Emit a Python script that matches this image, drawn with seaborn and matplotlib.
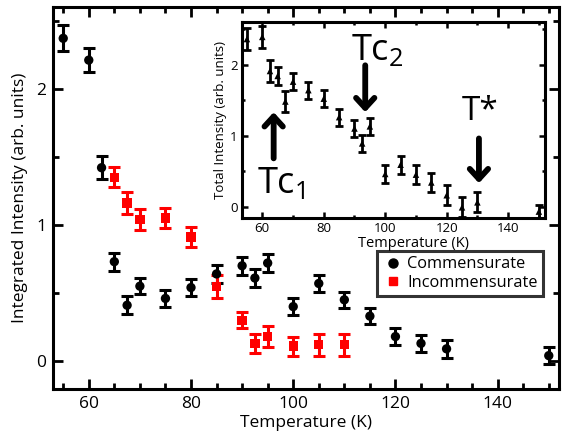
import numpy as np
import pandas as pd
import matplotlib
matplotlib.use("Agg")
import matplotlib.pyplot as plt
import seaborn as sns
from matplotlib.lines import Line2D
from matplotlib.ticker import MultipleLocator

# ---------------- data ----------------
comm_T = [55, 60, 62.5, 65, 67.5, 70, 75, 80, 85, 90, 92.5, 95, 100, 105, 110, 115, 120, 125, 130, 150]
comm_I = [2.37, 2.21, 1.42, 0.73, 0.41, 0.55, 0.46, 0.54, 0.64, 0.70, 0.61, 0.72, 0.40, 0.57, 0.45, 0.33, 0.18, 0.13, 0.09, 0.04]
comm_err = [0.095, 0.09, 0.085, 0.065, 0.065, 0.06, 0.06, 0.06, 0.065, 0.065, 0.065, 0.065, 0.06, 0.065, 0.06, 0.06, 0.065, 0.065, 0.065, 0.065]

inc_T = [65, 67.5, 70, 75, 80, 85, 90, 92.5, 95, 100, 105, 110]
inc_I = [1.35, 1.16, 1.04, 1.05, 0.91, 0.55, 0.30, 0.13, 0.18, 0.11, 0.12, 0.12]
inc_err = [0.075, 0.08, 0.075, 0.075, 0.075, 0.085, 0.06, 0.07, 0.08, 0.07, 0.08, 0.08]

tot_T = [55, 60, 62.5, 65, 67.5, 70, 75, 80, 85, 90, 92.5, 95, 100, 105, 110, 115, 120, 125, 130, 150]
tot_I = [2.36, 2.39, 1.91, 1.84, 1.48, 1.76, 1.64, 1.52, 1.26, 1.10, 0.89, 1.13, 0.46, 0.59, 0.45, 0.34, 0.16, -0.01, 0.06, -0.07]
tot_err = [0.16, 0.16, 0.15, 0.13, 0.15, 0.12, 0.12, 0.12, 0.12, 0.12, 0.12, 0.12, 0.13, 0.13, 0.13, 0.13, 0.14, 0.14, 0.14, 0.1]

series_names = ["Commensurate", "Incommensurate"]
series_colors = ["black", "#ff0000"]

annot_labels = ["Tc$_1$", "Tc$_2$", "T*"]
annot_arrow_T = [63.7, 93.5, 130.5]

# ---------------- style ----------------
sns.set_theme(style="ticks")
plt.rcParams["font.family"] = ["Open Sans", "DejaVu Sans"]
plt.rcParams["mathtext.default"] = "regular"
plt.rcParams["axes.linewidth"] = 2.2
for key in ["text.color", "axes.labelcolor", "xtick.color", "ytick.color", "axes.edgecolor"]:
    plt.rcParams[key] = "black"

fig = plt.figure(figsize=(5.62, 4.34), dpi=100)
ax = fig.add_axes([53/562, 1-389/434, (559-53)/562, (389-7)/434])

df = pd.DataFrame({
    "T": comm_T + inc_T,
    "I": comm_I + inc_I,
    "phase": [series_names[0]]*len(comm_T) + [series_names[1]]*len(inc_T),
})

ax.errorbar(comm_T, comm_I, yerr=comm_err, fmt="none", ecolor=series_colors[0],
            elinewidth=2.2, capsize=4.5, capthick=2.2, zorder=2)
ax.errorbar(inc_T, inc_I, yerr=inc_err, fmt="none", ecolor=series_colors[1],
            elinewidth=2.2, capsize=4.5, capthick=2.2, zorder=3)
sns.scatterplot(data=df, x="T", y="I", hue="phase", style="phase",
                palette=dict(zip(series_names, series_colors)),
                markers={series_names[0]: "o", series_names[1]: "s"},
                s=45, edgecolor="none", legend=False, ax=ax, zorder=4)

ax.set_xlim(53, 152)
ax.set_ylim(-0.205, 2.6)
ax.xaxis.set_major_locator(MultipleLocator(20))
ax.xaxis.set_minor_locator(MultipleLocator(5))
ax.yaxis.set_major_locator(MultipleLocator(1))
ax.yaxis.set_minor_locator(MultipleLocator(0.5))
ax.tick_params(which="both", direction="in", top=True, right=True, width=2, labelsize=12.5,
               colors="black")
ax.tick_params(which="major", length=7.5, pad=5)
ax.tick_params(which="minor", length=4)
ax.set_xlabel("Temperature (K)", fontsize=12.5, labelpad=2, color="black")
ax.set_ylabel("Integrated Intensity (arb. units)", fontsize=12.5, labelpad=6, color="black")
for s in ax.spines.values():
    s.set_color("black")

handles = [Line2D([], [], marker="o", color=series_colors[0], linestyle="none", markersize=6.5),
           Line2D([], [], marker="s", color=series_colors[1], linestyle="none", markersize=5.5)]
leg = ax.legend(handles, series_names, loc="upper right", bbox_to_anchor=(0.968, 0.36),
                fontsize=11.8, frameon=True, fancybox=False, handletextpad=0.25,
                handlelength=1.3, borderpad=0.3, labelspacing=0.15, borderaxespad=0)
leg.get_frame().set_edgecolor("black")
leg.get_frame().set_linewidth(2.2)
for t in leg.get_texts():
    t.set_color("black")

# ---------------- inset ----------------
ins = fig.add_axes([241.7/562, 1-218/434, (545-241.7)/562, (218-22)/434])
ins.errorbar(tot_T, tot_I, yerr=tot_err, fmt="none", ecolor="black",
             elinewidth=2, capsize=3, capthick=2, zorder=2)
sns.scatterplot(x=tot_T, y=tot_I, marker="^", color="black", s=22,
                edgecolor="none", ax=ins, zorder=3)
ins.set_xlim(53.3, 152)
ins.set_ylim(-0.16, 2.6)
ins.xaxis.set_major_locator(MultipleLocator(20))
ins.xaxis.set_minor_locator(MultipleLocator(10))
ins.yaxis.set_major_locator(MultipleLocator(1))
ins.yaxis.set_minor_locator(MultipleLocator(0.5))
ins.tick_params(which="both", direction="in", top=True, right=True, width=1.8, labelsize=9.5,
                colors="black", pad=3)
ins.tick_params(which="major", length=4.5)
ins.tick_params(which="minor", length=2.5)
ins.set_xlabel("Temperature (K)", fontsize=10.5, labelpad=0, color="black")
ins.xaxis.set_label_coords(0.568, -0.09)
ins.set_ylabel("Total Intensity (arb. units)", fontsize=9.5, labelpad=2, color="black")
for s in ins.spines.values():
    s.set_color("black")
    s.set_linewidth(2.2)

arrow_kw = dict(arrowstyle="->,head_length=0.6,head_width=0.55", lw=4.2, color="black",
                shrinkA=0, shrinkB=0)
ins.annotate("", xy=(annot_arrow_T[0], 1.33), xytext=(annot_arrow_T[0], 0.68), arrowprops=arrow_kw)
ins.annotate("", xy=(annot_arrow_T[1], 1.33), xytext=(annot_arrow_T[1], 1.99), arrowprops=arrow_kw)
ins.annotate("", xy=(annot_arrow_T[2], 0.33), xytext=(annot_arrow_T[2], 0.96), arrowprops=arrow_kw)

ins.text(58.3, 0.19, annot_labels[0], fontsize=26, ha="left", va="baseline", color="black")
ins.text(89.0, 2.06, annot_labels[1], fontsize=26, ha="left", va="baseline", color="black")
ins.text(124.8, 1.22, annot_labels[2], fontsize=24, ha="left", va="baseline", color="black")

fig.savefig("out.png", dpi=100)
